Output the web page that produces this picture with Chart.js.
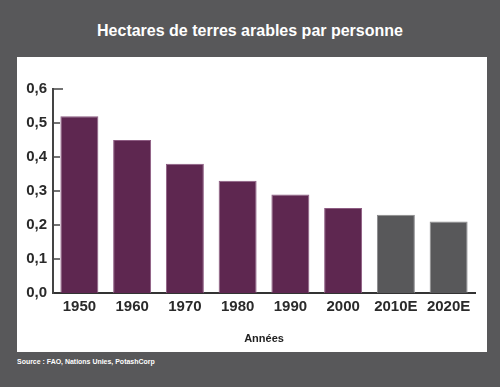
<!DOCTYPE html>
<html lang="fr">
<head>
    <meta charset="UTF-8">
    <title>Hectares de terres arables par personne</title>
    <script src="https://cdn.jsdelivr.net/npm/chart.js"></script>
    <style>
        html, body { margin: 0; padding: 0; }
        body {
            width: 500px;
            height: 387px;
            background: #58585a;
            position: relative;
            overflow: hidden;
            font-family: "Liberation Sans", Arial, sans-serif;
        }
        .title {
            position: absolute;
            left: 0; top: 20px;
            width: 500px;
            text-align: center;
            color: #fff;
            font-weight: bold;
            font-size: 16px;
            line-height: 22px;
        }
        .panel {
            position: absolute;
            left: 17px; top: 57px;
            width: 470px; height: 295px;
            background: #fff;
        }
        .source {
            position: absolute;
            left: 17px; top: 356px;
            color: #fff;
            font-weight: bold;
            font-size: 8px;
            line-height: 12px;
            white-space: nowrap;
            transform: scaleX(0.87);
            transform-origin: left center;
        }
    </style>
</head>
<body>
    <div class="title">Hectares de terres arables par personne</div>
    <div class="panel"><canvas id="landChart" width="470" height="295"></canvas></div>
    <div class="source">Source : FAO, Nations Unies, PotashCorp</div>

    <script>
        // data
        const years = ["1950", "1960", "1970", "1980", "1990", "2000", "2010E", "2020E"];
        const hectares = [0.52, 0.45, 0.38, 0.33, 0.29, 0.25, 0.23, 0.21];
        const yTickLabels = ["0,0", "0,1", "0,2", "0,3", "0,4", "0,5", "0,6"];

        const PURPLE = "#5e2750";
        const GREY = "#58585a";

        // estimates (labels ending in E) are grey
        const barColors = years.map(y => y.endsWith("E") ? GREY : PURPLE);
        const barEdges = years.map(y => y.endsWith("E") ? "#8a8a8c" : "#8d5c82");

        // short tick marks pointing into the plot from the y axis
        const innerTicks = {
            id: "innerTicks",
            beforeDatasetsDraw(chart) {
                const { ctx, chartArea, scales } = chart;
                const y = scales.y;
                ctx.save();
                ctx.strokeStyle = "#444";
                ctx.lineWidth = 1.5;
                y.ticks.forEach((t, i) => {
                    const py = y.getPixelForValue(t.value);
                    if (i === 0) return;
                    const len = i === y.ticks.length - 1 ? 10 : 7;
                    ctx.beginPath();
                    ctx.moveTo(chartArea.left, py);
                    ctx.lineTo(chartArea.left + len, py);
                    ctx.stroke();
                });
                ctx.restore();
            }
        };

        new Chart(document.getElementById("landChart"), {
            type: "bar",
            data: {
                labels: years,
                datasets: [{
                    data: hectares,
                    backgroundColor: barColors,
                    borderColor: barEdges,
                    borderWidth: 1,
                    barPercentage: 0.72,
                    categoryPercentage: 1
                }]
            },
            options: {
                responsive: false,
                animation: false,
                layout: { padding: { top: 32, right: 12, left: 0, bottom: 0 } },
                plugins: {
                    legend: { display: false },
                    tooltip: { enabled: false }
                },
                scales: {
                    x: {
                        offset: true,
                        grid: { display: false, drawTicks: false },
                        border: { color: "#333", width: 2 },
                        ticks: {
                            color: "#2a2a2a",
                            padding: 5,
                            font: { family: "Liberation Sans", size: 15, weight: "bold" }
                        },
                        title: {
                            display: true,
                            text: "Années",
                            color: "#222",
                            font: { family: "Liberation Sans", size: 11, weight: "bold" },
                            padding: { top: 4, bottom: 6 }
                        },
                        afterFit(scale) { scale.height = 59; }
                    },
                    y: {
                        min: 0,
                        max: 0.6,
                        grid: { display: false, drawTicks: false },
                        border: { color: "#444", width: 2 },
                        ticks: {
                            stepSize: 0.1,
                            color: "#2a2a2a",
                            padding: 6,
                            font: { family: "Liberation Sans", size: 15, weight: "bold" },
                            callback: (v, i) => yTickLabels[i]
                        },
                        afterFit(scale) { scale.width = 36; }
                    }
                }
            },
            plugins: [innerTicks]
        });
    </script>
</body>
</html>
